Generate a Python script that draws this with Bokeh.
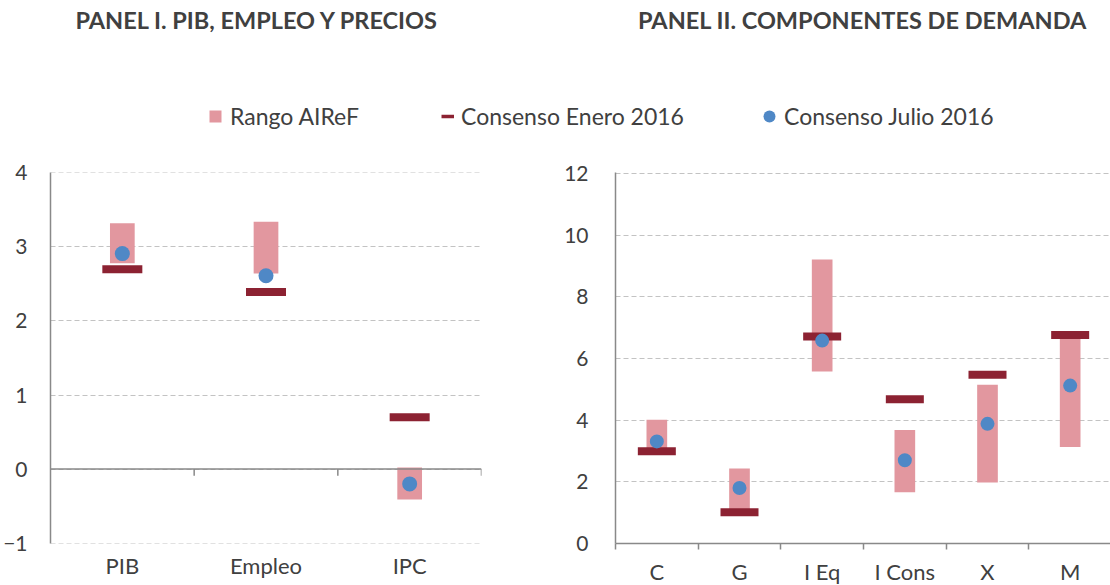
from bokeh.plotting import figure
from bokeh.layouts import column, row
from bokeh.models import (Range1d, FixedTicker, SingleIntervalTicker, Span, Label,
                          Legend, LegendItem)
from bokeh.embed import file_html
from bokeh.resources import INLINE

# ---------------- data ----------------
left_cats = ["PIB", "Empleo", "IPC"]
left_lo = [2.78, 2.64, -0.41]
left_hi = [3.32, 3.34, 0.02]
left_enero = [2.70, 2.39, 0.70]
left_julio = [2.91, 2.61, -0.20]

right_cats = ["C", "G", "I Eq", "I Cons", "X", "M"]
right_lo = [3.10, 1.10, 5.58, 1.66, 1.98, 3.13]
right_hi = [4.01, 2.43, 9.21, 3.68, 5.15, 6.70]
right_enero = [2.99, 1.01, 6.71, 4.68, 5.47, 6.76]
right_julio = [3.31, 1.80, 6.58, 2.70, 3.88, 5.12]

titles = ["PANEL I. PIB, EMPLEO Y PRECIOS", "PANEL II. COMPONENTES DE DEMANDA"]
legend_labels = ["Rango AIReF", "Consenso Enero 2016", "Consenso Julio 2016"]

# ---------------- style ----------------
FONT = "Lato"
TEXT = "#404040"
AX = "#898989"
GRID = "#C3C3C3"
PINK = "#E2979F"
RED = "#8C2232"
BLUE = "#4F88C6"

# panel geometry (pixels)
L_BL, L_FW, L_BR = 44, 431, 80
R_BL, R_FW = 52, 496
FRAME_H, B_TOP, B_BOT = 371, 36, 36
HW, HH = 1100, 136

# ---------------- header (titles + legend) ----------------
header = figure(width=HW, height=HH, x_range=Range1d(0, HW), y_range=Range1d(HH, 0),
                output_backend="svg", toolbar_location=None, min_border=0,
                x_axis_location=None, y_axis_location=None)
header.grid.visible = False
header.outline_line_color = None

for tx, cx in zip(titles, [257, 862]):
    header.add_layout(Label(x=cx, y=19, text=tx, text_align="center", text_baseline="middle",
                            text_font=FONT, text_font_style="bold", text_font_size="23.5px",
                            text_color=TEXT))

r1 = header.scatter(x=[-1000], y=[-1000], marker="square", size=12, fill_color=PINK, line_color=None)
r2 = header.line(x=[-1000, -999], y=[-1000, -1000], line_color=RED, line_width=3.5)
r3 = header.scatter(x=[-1000], y=[-1000], size=12, fill_color=BLUE, line_color=None)

for lab, rend, lx, gw, so in [(legend_labels[0], r1, 200, 30, 0),
                              (legend_labels[1], r2, 441, 13, 7),
                              (legend_labels[2], r3, 754, 30, 0)]:
    header.add_layout(Legend(items=[LegendItem(label=lab, renderers=[rend])],
                             orientation="horizontal", location=(lx, 5),
                             glyph_width=gw, glyph_height=30, label_standoff=so,
                             padding=0, margin=0, border_line_color=None,
                             background_fill_alpha=0, label_text_font=FONT,
                             label_text_font_size="23px", label_text_color=TEXT), "center")


def style_common(p, interval, standoff):
    p.outline_line_color = None
    p.xgrid.grid_line_color = None
    p.ygrid.grid_line_color = GRID
    p.ygrid.grid_line_dash = "5 3"
    p.ygrid.grid_line_width = 1.2
    p.yaxis.ticker = SingleIntervalTicker(interval=interval)
    p.yaxis.axis_line_color = AX
    p.yaxis.axis_line_width = 1.5
    p.yaxis.major_tick_line_color = None
    p.yaxis.minor_tick_line_color = None
    p.yaxis.major_label_standoff = standoff
    p.yaxis.major_label_text_font = FONT
    p.yaxis.major_label_text_font_size = "21px"
    p.yaxis.major_label_text_color = TEXT
    p.xaxis.major_label_text_font = FONT
    p.xaxis.major_label_text_font_size = "22px"
    p.xaxis.major_label_text_color = TEXT
    p.xaxis.major_tick_line_color = None
    p.xaxis.major_tick_out = 0
    p.xaxis.major_label_standoff = 8


def draw(p, cats, lo, hi, enero, julio, bar_w, dash_w, dot):
    xs = list(range(1, len(cats) + 1))
    p.vbar(x=xs, bottom=lo, top=hi, width=bar_w, fill_color=PINK, line_color=None)
    p.rect(x=xs, y=enero, width=dash_w, height=8, width_units="screen", height_units="screen",
           fill_color=RED, line_color=None)
    p.scatter(x=xs, y=julio, size=dot, fill_color=BLUE, line_color=None)
    return xs


# ---------------- left panel ----------------
left = figure(frame_width=L_FW, frame_height=FRAME_H,
              x_range=Range1d(0.5, 3.5), y_range=Range1d(-1.005, 4.005),
              output_backend="svg", toolbar_location=None,
              min_border_left=L_BL, min_border_right=L_BR,
              min_border_top=B_TOP, min_border_bottom=B_BOT)
style_common(left, 1, 17)
xs_l = draw(left, left_cats, left_lo, left_hi, left_enero, left_julio, 0.172, 40, 15)
bounds_l = [x - 0.5 for x in xs_l] + [xs_l[-1] + 0.5]
left.xaxis.ticker = FixedTicker(ticks=xs_l, minor_ticks=[])
left.xaxis.major_label_overrides = {x: c for x, c in zip(xs_l, left_cats)}
left.xaxis.axis_line_color = None
left.xaxis.minor_tick_line_color = None
left.add_layout(Span(location=0, dimension="width", line_color=AX, line_width=1.5))
left.segment(x0=bounds_l[1:], y0=[0] * (len(bounds_l) - 1), x1=bounds_l[1:],
             y1=[-0.09] * (len(bounds_l) - 1), line_color=AX, line_width=1.5)

# ---------------- right panel ----------------
right = figure(frame_width=R_FW, frame_height=FRAME_H,
               x_range=Range1d(0.5, 6.5), y_range=Range1d(0, 12.03),
               output_backend="svg", toolbar_location=None,
               min_border_left=R_BL, min_border_right=0,
               min_border_top=B_TOP, min_border_bottom=B_BOT)
style_common(right, 2, 21)
xs_r = draw(right, right_cats, right_lo, right_hi, right_enero, right_julio, 0.25, 38, 14)
bounds_r = [x - 0.5 for x in xs_r] + [xs_r[-1] + 0.5]
right.xaxis.ticker = FixedTicker(ticks=xs_r, minor_ticks=bounds_r)
right.xaxis.major_label_overrides = {x: c for x, c in zip(xs_r, right_cats)}
right.xaxis.axis_line_color = AX
right.xaxis.axis_line_width = 1.5
right.xaxis.minor_tick_line_color = AX
right.xaxis.minor_tick_line_width = 1.5
right.xaxis.minor_tick_in = 0
right.xaxis.minor_tick_out = 6

layout = column(header, row(left, right, spacing=0), spacing=0)
open("out.html", "w").write(file_html(layout, INLINE))
